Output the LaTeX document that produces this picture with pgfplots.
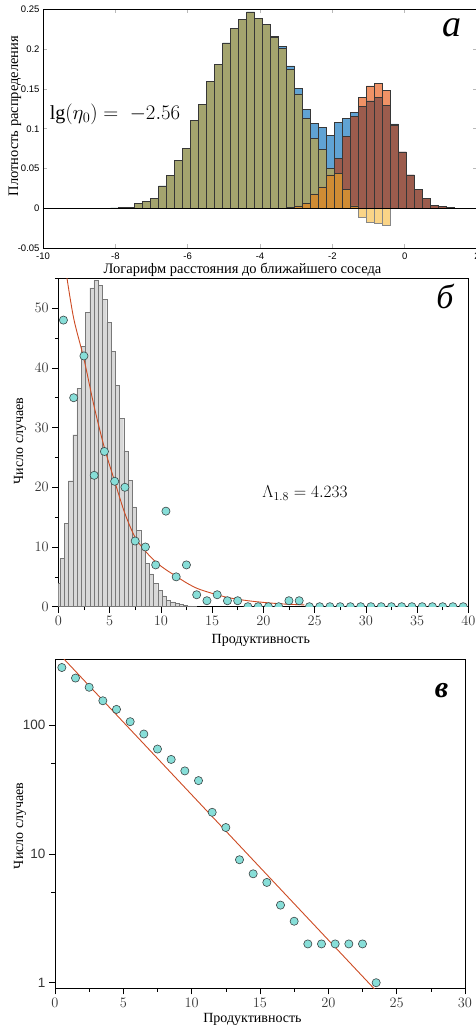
\documentclass[border=0pt]{standalone}
\usepackage{fontspec}
\setmainfont{Liberation Serif}
\newfontfamily\sansf{Liberation Sans}
\usepackage{pgfplots}
\pgfplotsset{compat=1.18}
\usepackage{pgfplotstable}

\definecolor{cBlue}{RGB}{96,163,212}
\definecolor{cSalmon}{RGB}{240,146,102}
\definecolor{cBrown}{RGB}{156,92,77}
\definecolor{cOlive}{RGB}{164,164,110}
\definecolor{cAmber}{RGB}{208,140,52}
\definecolor{cYel}{RGB}{250,212,135}
\definecolor{cEdge}{RGB}{55,55,55}
\definecolor{cAqua}{RGB}{135,222,216}
\definecolor{cMk}{RGB}{60,70,70}
\definecolor{cFit}{RGB}{205,75,35}
\definecolor{cGrayBar}{RGB}{216,216,216}
\definecolor{cGrayEdge}{RGB}{120,120,120}
\definecolor{cTick}{RGB}{55,55,55}

% panel a: x = bin centre; O, B, Br, Ol, Am, Yn = visible layer tops
\pgfplotstableread{
x       O      B       Br     Ol      Am     Yn
-8.019  0      0.0005  0      0.0005  0      0
-7.798  0      0.0008  0      0.0008  0      0
-7.577  0      0.0015  0      0.0015  0      0
-7.356  0      0.0065  0      0.0065  0      0
-7.135  0      0.0082  0      0.0082  0      0
-6.914  0      0.0127  0      0.0127  0      0
-6.693  0      0.028   0      0.028   0      0
-6.472  0      0.041   0      0.041   0      0
-6.251  0      0.060   0      0.060   0      0
-6.030  0      0.075   0      0.075   0      0
-5.809  0      0.111   0      0.111   0      0
-5.588  0      0.131   0      0.131   0      0
-5.367  0      0.160   0      0.160   0      0
-5.146  0      0.181   0      0.181   0      0
-4.925  0      0.208   0      0.208   0      0
-4.704  0      0.226   0      0.226   0      0
-4.483  0      0.238   0      0.238   0      0
-4.262  0      0.247   0      0.247   0      0
-4.041  0      0.239   0      0.239   0      0
-3.820  0      0.231   0      0.231   0      0
-3.599  0      0.216   0      0.215   0      0
-3.378  0      0.204   0      0.201   0      0
-3.157  0.001  0.179   0.001  0.175   0.001  0
-2.936  0.003  0.151   0.003  0.144   0.003  0
-2.715  0.006  0.124   0.006  0.113   0.006  0
-2.494  0.018  0.107   0.018  0.088   0.018  0
-2.273  0.027  0.102   0.027  0.074   0.027  0
-2.052  0.042  0.092   0.042  0.050   0.042  0
-1.831  0.063  0.108   0.063  0.044   0.044  0
-1.610  0.090  0.113   0.090  0.024   0.024  0
-1.389  0.116  0.121   0.116  0.003   0.003  0
-1.168  0.139  0.128   0.128  0       0     -0.011
-0.947  0.154  0.135   0.135  0       0     -0.017
-0.726  0.157  0.139   0.139  0       0     -0.019
-0.505  0.148  0.129   0.129  0       0     -0.021
-0.284  0.104  0.106   0.104  0       0      0
-0.063  0.071  0.071   0.071  0       0      0
 0.158  0.042  0.042   0.042  0       0      0
 0.379  0.024  0.024   0.024  0       0      0
 0.600  0.012  0.012   0.012  0       0      0
 0.821  0.0034 0.0034  0.0034 0       0      0
 1.042  0.002  0.002   0.002  0       0      0
 1.263  0.001  0.001   0.001  0       0      0
}\dataA

\pgfplotstableread{
x       h
-0.042  3.9
0.373   8.1
0.787   14.0
1.202   21.1
1.617   28.8
2.031   36.6
2.446   43.6
2.860   49.3
3.275   53.4
3.690   54.6
4.104   53.8
4.519   51.5
4.933   47.6
5.348   42.8
5.763   37.1
6.177   31.6
6.592   26.1
7.006   21.2
7.421   16.7
7.836   12.8
8.250   9.8
8.665   7.3
9.079   5.5
9.494   3.9
9.909   2.7
10.323  1.8
10.738  1.1
11.152  0.8
11.567  0.55
11.982  0.35
12.396  0.2
12.811  0.12
13.225  0.06
}\dataB

\pgfplotstableread{
x     n
0.5   48
1.5   35
2.5   42
3.5   22
4.5   26
5.5   21
6.5   20
7.5   11
8.5   10
9.5   7
10.5  16
11.5  5
12.5  7
13.5  2
14.5  1
15.5  2
16.5  1
17.5  1
18.5  0
19.5  0
20.5  0
21.5  0
22.5  1
23.5  1
24.5  0
25.5  0
26.5  0
27.5  0
28.5  0
29.5  0
30.5  0
31.5  0
32.5  0
33.5  0
34.5  0
35.5  0
36.5  0
37.5  0
38.5  0
39.5  0
}\dataP

\pgfplotstableread{
x     n
0.5   279
1.5   231
2.5   196
3.5   154
4.5   132
5.5   106
6.5   85
7.5   65
8.5   54
9.5   44
10.5  37
11.5  21
12.5  16
13.5  9
14.5  7
15.5  6
16.5  4
17.5  3
18.5  2
19.5  2
20.5  2
21.5  2
22.5  2
23.5  1
}\dataC

\begin{document}
\begin{tikzpicture}

% ---------------- panel a ----------------
\begin{axis}[
  at={(43pt,-9.5pt)}, anchor=north west,
  scale only axis, width=434pt, height=238.5pt,
  xmin=-10, xmax=2, ymin=-0.05, ymax=0.25,
  xtick={-10,-8,-6,-4,-2,0,2},
  xticklabels={-10,-8,-6,-4,-2,0,2},
  ytick={-0.05,0,0.05,0.1,0.15,0.2,0.25},
  yticklabels={-0.05,0,0.05,0.1,0.15,0.2,0.25},
  tick align=inside, major tick length=4pt,
  tick style={draw=gray!55, line width=0.5pt},
  axis line style={black, line width=0.8pt},
  ticklabel style={font=\sansf\fontsize{9.5}{11}\selectfont, text=black},
  xticklabel style={yshift=-1pt},
  xlabel={Логарифм расстояния до ближайшего соседа},
  ylabel={Плотность распределения},
  label style={font=\fontsize{14.5}{16}\selectfont},
  xlabel style={at={(axis description cs:0.4597,0)}, anchor=center, yshift=-22pt},
  ylabel style={at={(axis description cs:-0.0645,0.553)}, anchor=center},
  clip=true,
]
\addplot[ybar, bar width=0.221, bar shift=0pt, fill=cSalmon, draw=cEdge, line width=0.5pt] table[x=x,y=O]{\dataA};
\addplot[ybar, bar width=0.221, bar shift=0pt, fill=cBlue, draw=cEdge, line width=0.5pt] table[x=x,y=B]{\dataA};
\addplot[ybar, bar width=0.221, bar shift=0pt, fill=cBrown, draw=cEdge, line width=0.5pt] table[x=x,y=Br]{\dataA};
\addplot[ybar, bar width=0.221, bar shift=0pt, fill=cOlive, draw=cEdge, line width=0.5pt] table[x=x,y=Ol]{\dataA};
\addplot[ybar, bar width=0.221, bar shift=0pt, fill=cAmber, draw=cEdge, line width=0.5pt] table[x=x,y=Am]{\dataA};
\addplot[ybar, bar width=0.221, bar shift=0pt, fill=cYel, draw=cEdge!60, line width=0.5pt] table[x=x,y=Yn]{\dataA};
\addplot[black, line width=0.7pt] coordinates {(-10,0) (2,0)};
\end{axis}
\node[font=\fontsize{20}{24}\selectfont] at (115pt,-114pt) {$\mathrm{lg}(\eta_0) =\; -2.56$};
\node[font=\itshape\fontsize{38}{40}\selectfont] at (451.5pt,-27.5pt) {а};

% ---------------- panel b ----------------
\begin{axis}[
  at={(58.3pt,-278.3pt)}, anchor=north west,
  scale only axis, width=410pt, height=328.4pt,
  xmin=0, xmax=40, ymin=0, ymax=55,
  xtick={0,5,...,40}, minor xtick={2.5,7.5,...,37.5},
  ytick={0,10,...,50}, minor ytick={5,15,...,55},
  xtick pos=bottom, ytick pos=left,
  tick align=outside, major tick length=6pt, minor tick length=3.5pt,
  tick style={draw=black, line width=0.6pt},
  axis line style={black, line width=0.8pt},
  ticklabel style={font=\sansf\fontsize{13.5}{15}\selectfont, text=cTick},
  xlabel={Продуктивность},
  ylabel={Число случаев},
  label style={font=\fontsize{14}{16}\selectfont},
  xlabel style={at={(axis description cs:0.494,-0.1014)}, anchor=center},
  ylabel style={at={(axis description cs:-0.0934,0.505)}, anchor=center},
  clip marker paths=true,
]
\addplot[ybar, bar width=0.4146, bar shift=0pt, fill=cGrayBar, draw=cGrayEdge, line width=0.4pt] table[x=x,y=h]{\dataB};
\addplot[cFit, line width=0.9pt, smooth] coordinates {
 (0.76,56) (1.5,48.3) (2.5,41.5) (3.5,33.5) (4.5,26.6) (5.5,21) (6.5,15.6)
 (7.5,11.6) (8.5,9.3) (9.5,7.5) (10.5,6.2) (11.5,5.1) (12.5,4.0) (13.5,3.1)
 (14.5,2.5) (15.5,2.0) (16.5,1.55) (17.5,1.25) (18.5,1.0) (20,0.72) (22,0.45) (24,0.3)};
\addplot[only marks, mark=*, mark size=4.1pt, mark options={fill=cAqua, draw=cMk, line width=0.6pt}] table[x=x,y=n]{\dataP};
\end{axis}
\node[font=\fontsize{18}{22}\selectfont] at (305pt,-493pt) {$\Lambda_{1.8} = 4.233$};
\node[font=\itshape\fontsize{34}{36}\selectfont] at (445pt,-296pt) {б};

% ---------------- panel c ----------------
\begin{axis}[
  at={(55pt,-659.3pt)}, anchor=north west,
  scale only axis, width=410pt, height=329pt,
  xmin=0, xmax=30, ymode=log, ymin=0.905, ymax=323,
  xtick={0,5,...,30}, minor xtick={2.5,7.5,...,27.5},
  ytick={1,10,100}, yticklabels={1,10,100}, minor ytick={5,50},
  xtick pos=bottom, ytick pos=left,
  tick align=outside, major tick length=6pt, minor tick length=3.5pt,
  tick style={draw=black, line width=0.6pt},
  axis line style={black, line width=0.8pt},
  ticklabel style={font=\sansf\fontsize{13.5}{15}\selectfont, text=cTick},
  xlabel={Продуктивность},
  ylabel={Число случаев},
  label style={font=\fontsize{14}{16}\selectfont},
  xlabel style={at={(axis description cs:0.4817,-0.0933)}, anchor=center},
  ylabel style={at={(axis description cs:-0.0854,0.494)}, anchor=center},
  clip marker paths=true,
]
\addplot[cFit, line width=0.9pt] coordinates {(0,385) (24,0.76)};
\addplot[only marks, mark=*, mark size=4.1pt, mark options={fill=cAqua, draw=cMk, line width=0.6pt}] table[x=x,y=n]{\dataC};
\end{axis}
\node[font=\itshape\bfseries\fontsize{30}{32}\selectfont] at (441.5pt,-690.5pt) {в};

\pgfresetboundingbox
\path[use as bounding box] (0pt,0pt) rectangle (476pt,-1027pt);
\end{tikzpicture}
\end{document}
